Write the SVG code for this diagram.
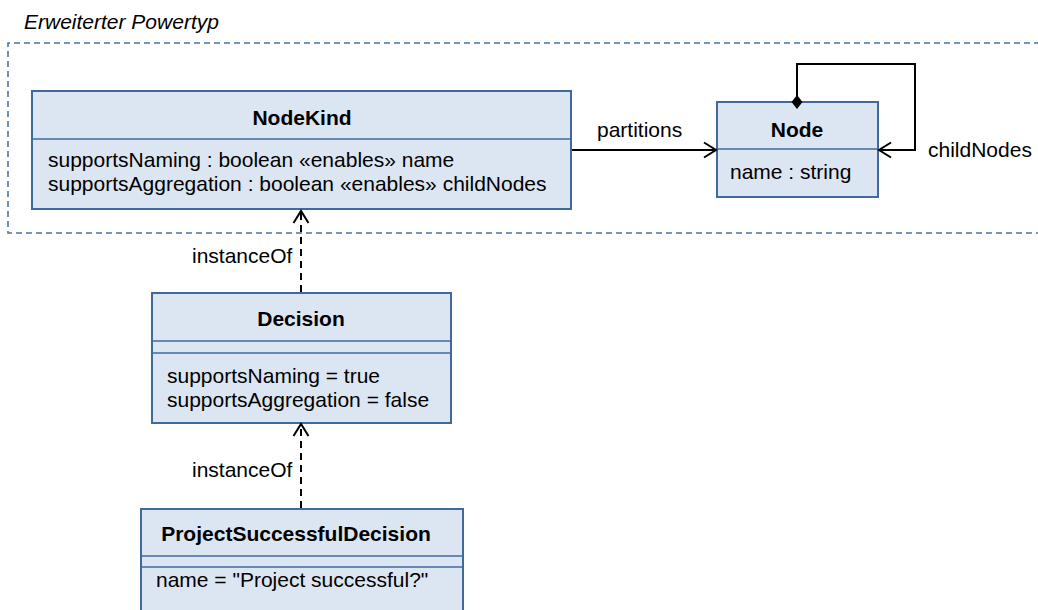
<svg xmlns="http://www.w3.org/2000/svg" width="1038" height="610" viewBox="0 0 1038 610">
  <defs>
    <style>
      text { font-family: "Liberation Sans", Arial, sans-serif; font-size: 21px; fill: #000; }
      .title { font-weight: bold; text-anchor: middle; }
      .box { fill: #dce6f2; stroke: #41699c; stroke-width: 2; }
      .div { stroke: #41699c; stroke-width: 1.5; }
      .conn { fill: none; stroke: #000; stroke-width: 2; }
      .dash { stroke-dasharray: 7 5; }
      .grp { fill: none; stroke: #4a76a8; stroke-width: 1.6; stroke-dasharray: 6 4; }
    </style>
    <marker id="open" viewBox="0 0 16 18" refX="14" refY="9" markerWidth="16" markerHeight="18" markerUnits="userSpaceOnUse" orient="auto">
      <path d="M2,1.5 L14,9 L2,16.5" fill="none" stroke="#000" stroke-width="2"/>
    </marker>
  </defs>

  <g id="group-powertyp">
    <text x="24" y="29" font-style="italic">Erweiterter Powertyp</text>
    <path class="grp" d="M1040,43 H8 V233 H1040"/>
  </g>

  <g id="NodeKind">
    <rect class="box" x="32" y="91" width="539" height="118"/>
    <line class="div" x1="32" y1="139" x2="571" y2="139"/>
    <text class="title" x="302" y="125">NodeKind</text>
    <text x="48" y="167">supportsNaming : boolean «enables» name</text>
    <text x="48" y="191">supportsAggregation : boolean «enables» childNodes</text>
  </g>

  <g id="Node">
    <rect class="box" x="717" y="102" width="161" height="95"/>
    <line class="div" x1="717" y1="149" x2="878" y2="149"/>
    <text class="title" x="797" y="137">Node</text>
    <text x="730" y="179">name : string</text>
  </g>

  <g id="Decision">
    <rect class="box" x="152" y="293" width="299" height="130"/>
    <line class="div" x1="152" y1="341" x2="451" y2="341"/>
    <line class="div" x1="152" y1="353" x2="451" y2="353"/>
    <text class="title" x="301" y="326">Decision</text>
    <text x="167" y="383">supportsNaming = true</text>
    <text x="167" y="407">supportsAggregation = false</text>
  </g>

  <g id="ProjectSuccessfulDecision">
    <rect class="box" x="141" y="509" width="322" height="110"/>
    <line class="div" x1="141" y1="556" x2="463" y2="556"/>
    <line class="div" x1="141" y1="567" x2="463" y2="567"/>
    <text class="title" x="296" y="541">ProjectSuccessfulDecision</text>
    <text x="156" y="587">name = "Project successful?"</text>
  </g>

  <g id="connectors">
    <path class="conn" d="M572,150 H716" marker-end="url(#open)"/>
    <path class="conn" d="M797,96 V64 H915 V150 H879" marker-end="url(#open)"/>
    <path d="M797,95 L802.5,102 L797,109 L791.5,102 Z" fill="#000"/>
    <path class="conn dash" d="M301,292 V211" marker-end="url(#open)"/>
    <path class="conn dash" d="M301,508 V424" marker-end="url(#open)"/>
    <text x="597" y="137">partitions</text>
    <text x="928" y="157">childNodes</text>
    <text x="192" y="263">instanceOf</text>
    <text x="192" y="477">instanceOf</text>
  </g>
</svg>
